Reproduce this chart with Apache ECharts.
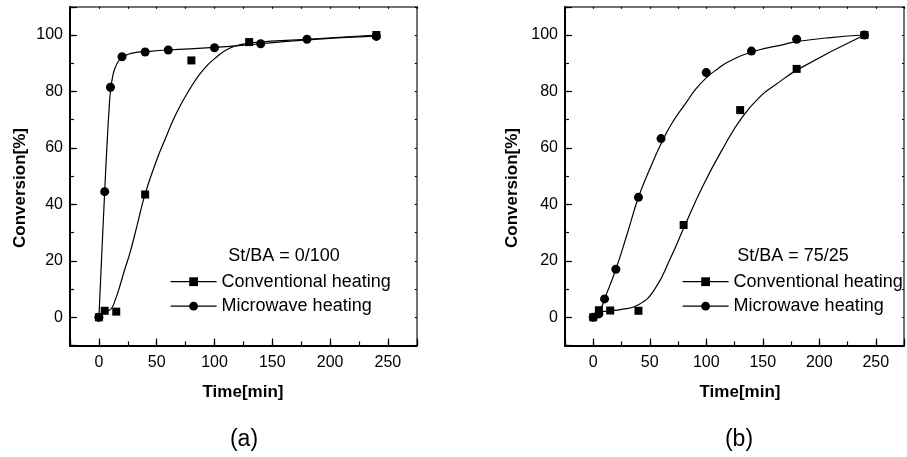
<!DOCTYPE html>
<html>
<head>
<meta charset="utf-8">
<style>html,body{margin:0;padding:0;background:#fff;}#c{width:907px;height:457px;}</style>
<script src="https://cdn.jsdelivr.net/npm/echarts@6/dist/echarts.min.js"></script>
</head>
<body>
<div id="c"></div>
<script>
// ---- Panel (a): St/BA = 0/100 ----
const aConvX = [0, 5, 15, 40, 80, 130, 240];
const aConvY = [0, 2.3, 2.0, 43.5, 91, 97.5, 100];
const aMicroX = [0, 5, 10, 20, 40, 60, 100, 140, 180, 240];
const aMicroY = [0, 44.5, 81.5, 92.3, 94.0, 94.7, 95.5, 96.9, 98.5, 99.5];
// fitted curves
const aConvFitX = [5, 8, 11, 14, 18, 22, 27, 33, 40, 50, 57, 67, 79, 90, 102, 113, 125, 136, 180, 240];
const aConvFitY = [2.0, 2.3, 3.2, 6.0, 10.9, 16.5, 23.0, 32.5, 43.7, 55.7, 62.8, 72.3, 81.1, 87.6, 92.3, 95.3, 96.8, 97.4, 98.5, 100];
const aMicroFitX = [0, 2, 5, 7, 9, 10, 12, 14, 17, 21, 25, 30, 40, 60, 100, 140, 180, 240];
const aMicroFitY = [0, 18, 44.5, 61, 75, 80, 85.5, 88.3, 90.8, 92.3, 93.1, 93.7, 94.1, 94.7, 95.6, 96.9, 98.3, 99.6];

// ---- Panel (b): St/BA = 75/25 ----
const bConvX = [0, 5, 15, 40, 80, 130, 180, 240];
const bConvY = [0, 2.5, 2.4, 2.3, 32.7, 73.4, 88.0, 100];
const bMicroX = [0, 5, 10, 20, 40, 60, 100, 140, 180, 240];
const bMicroY = [0, 1.2, 6.5, 17.0, 42.5, 63.3, 86.7, 94.3, 98.5, 100];
const bConvFitX = [5, 15, 25, 40, 54, 69, 80, 97, 115, 132, 149, 160, 182, 240];
const bConvFitY = [2.0, 2.3, 2.8, 4.4, 9.7, 21.5, 31.5, 46.5, 60.0, 71.0, 78.7, 82.0, 88.0, 100];
const bMicroFitX = [0, 5, 10, 20, 30, 40, 50, 60, 70, 83, 90, 100, 110, 120, 140, 170, 182, 210, 240];
const bMicroFitY = [0, 1.5, 6.5, 17, 29.5, 42.5, 52.5, 61.5, 69.0, 76.5, 80.5, 84.8, 88.0, 90.6, 94.0, 96.8, 97.8, 99.1, 100];

const xTickLabels = [0, 50, 100, 150, 200, 250];
const yTickLabels = [0, 20, 40, 60, 80, 100];
const panelTitles = ['St/BA = 0/100', 'St/BA = 75/25'];
const panelTags = ['(a)', '(b)'];
const seriesNames = ['Conventional heating', 'Microwave heating'];

const pairs = (xs, ys) => xs.map((x, i) => [x, ys[i]]);
const FONT = 'Liberation Sans, Arial, sans-serif';

const gridLefts = [70, 565];
const grids = gridLefts.map(l => ({left: l, top: 6.8, width: 346.8, height: 338.7}));

const xAxes = [], yAxes = [];
grids.forEach((g, gi) => {
  xAxes.push({gridIndex: gi, type: 'value', position: 'bottom', min: -25, max: 275, interval: 25,
    axisLine: {show: true, onZero: false, lineStyle: {color: '#000', width: 2}},
    axisTick: {show: true, inside: true, length: 4, lineStyle: {color: '#000', width: 1.2}},
    axisLabel: {show: true, margin: 9, color: '#000', fontSize: 16, fontFamily: FONT,
      formatter: v => xTickLabels.indexOf(v) >= 0 ? String(v) : ''},
    splitLine: {show: false}});
  xAxes.push({gridIndex: gi, type: 'value', position: 'bottom', min: -25, max: 275,
    axisLine: {show: false, onZero: false},
    axisTick: {show: true, inside: true, length: 7, lineStyle: {color: '#000', width: 1.2}},
    axisLabel: {show: false}, splitLine: {show: false}});
  xAxes.push({gridIndex: gi, type: 'value', position: 'top', min: -25, max: 275, interval: 25,
    axisLine: {show: true, onZero: false, lineStyle: {color: '#444', width: 1.5}},
    axisTick: {show: true, inside: true, length: 2, lineStyle: {color: '#000', width: 1.2}},
    axisLabel: {show: false}, splitLine: {show: false}});
  yAxes.push({gridIndex: gi, type: 'value', position: 'left', min: -10, max: 110, interval: 10,
    axisLine: {show: true, onZero: false, lineStyle: {color: '#000', width: 2}},
    axisTick: {show: true, inside: true, length: 4, lineStyle: {color: '#000', width: 1.2}},
    axisLabel: {show: true, margin: 7, color: '#000', fontSize: 16, fontFamily: FONT,
      formatter: v => yTickLabels.indexOf(v) >= 0 ? String(v) : ''},
    splitLine: {show: false}});
  yAxes.push({gridIndex: gi, type: 'value', position: 'left', min: -10, max: 110,
    axisLine: {show: false, onZero: false},
    axisTick: {show: true, inside: true, length: 7, lineStyle: {color: '#000', width: 1.2}},
    axisLabel: {show: false}, splitLine: {show: false}});
  yAxes.push({gridIndex: gi, type: 'value', position: 'right', min: -10, max: 110, interval: 10,
    axisLine: {show: true, onZero: false, lineStyle: {color: '#444', width: 1.5}},
    axisTick: {show: true, inside: true, length: 2, lineStyle: {color: '#000', width: 1.2}},
    axisLabel: {show: false}, splitLine: {show: false}});
});

const fitLine = (gi, name, xs, ys) => ({
  type: 'line', name: name + ' fit', xAxisIndex: gi * 3, yAxisIndex: gi * 3,
  data: pairs(xs, ys), smooth: 0.5, symbol: 'none',
  lineStyle: {color: '#000', width: 1.2}, silent: true, z: 2
});
const dataPts = (gi, name, xs, ys, sym, size) => ({
  type: 'line', name: name, xAxisIndex: gi * 3, yAxisIndex: gi * 3,
  data: pairs(xs, ys), symbol: sym, symbolSize: size, showSymbol: true,
  itemStyle: {color: '#000'}, lineStyle: {opacity: 0, width: 0, color: '#000'}, z: 3
});

const series = [
  fitLine(0, seriesNames[0], aConvFitX, aConvFitY),
  fitLine(0, seriesNames[1], aMicroFitX, aMicroFitY),
  dataPts(0, seriesNames[0], aConvX, aConvY, 'rect', 8),
  dataPts(0, seriesNames[1], aMicroX, aMicroY, 'circle', 9),
  fitLine(1, seriesNames[0], bConvFitX, bConvFitY),
  fitLine(1, seriesNames[1], bMicroFitX, bMicroFitY),
  dataPts(1, seriesNames[0], bConvX, bConvY, 'rect', 8),
  dataPts(1, seriesNames[1], bMicroX, bMicroY, 'circle', 9)
];

const legendLefts = [170, 682];
const legends = legendLefts.map(l => ({
  data: seriesNames, orient: 'vertical', left: l, top: 272.7, padding: 0,
  itemWidth: 46, itemHeight: 11, itemGap: 6.5, selectedMode: false,
  textStyle: {color: '#000', fontSize: 18, fontFamily: FONT},
  lineStyle: {color: '#000', width: 1.2, opacity: 1},
  itemStyle: {color: '#000'}
}));

const txt = (x, y, text, size, weight, rot) => ({
  type: 'text', x: x, y: y, rotation: rot || 0, silent: true,
  style: {text: text, x: 0, y: 0, align: 'center', verticalAlign: 'middle',
    textAlign: 'center', textVerticalAlign: 'middle',
    fontSize: size, fontWeight: weight, fontFamily: FONT, fill: '#000'}
});

const graphics = [
  txt(243, 392, 'Time[min]', 17, 'bold'),
  txt(740, 392, 'Time[min]', 17, 'bold'),
  txt(20.5, 188, 'Conversion[%]', 17, 'bold', Math.PI / 2),
  txt(512.5, 188, 'Conversion[%]', 17, 'bold', Math.PI / 2),
  txt(284, 256, panelTitles[0], 18, 'normal'),
  txt(793, 256, panelTitles[1], 18, 'normal'),
  txt(244, 440, panelTags[0], 23, 'normal'),
  txt(739, 440, panelTags[1], 23, 'normal')
];

const chart = echarts.init(document.getElementById('c'), null, {renderer: 'canvas'});
chart.setOption({
  animation: false,
  backgroundColor: '#fff',
  grid: grids,
  xAxis: xAxes,
  yAxis: yAxes,
  legend: legends,
  series: series,
  graphic: graphics
});
</script>
</body>
</html>
